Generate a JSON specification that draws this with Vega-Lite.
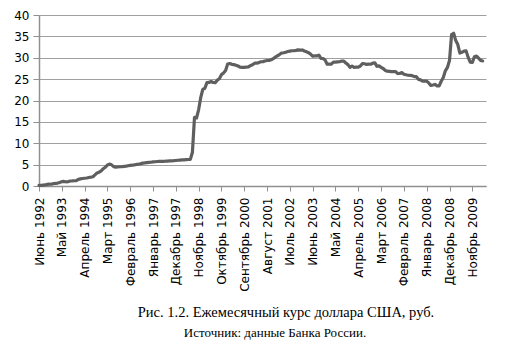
{
  "$schema": "https://vega.github.io/schema/vega-lite/v6.json",
  "width": 447,
  "height": 171,
  "autosize": "none",
  "padding": {"left": 39, "top": 15, "right": 21, "bottom": 170},
  "background": "white",
  "config": {"view": {"stroke": null}},
  "data": {"values": [
    {"m": "Июнь 1992", "v": 0.125}, {"m": "Июль 1992", "v": 0.161}, {"m": "Август 1992", "v": 0.205}, {"m": "Сентябрь 1992", "v": 0.254}, {"m": "Октябрь 1992", "v": 0.398}, {"m": "Ноябрь 1992", "v": 0.448}, {"m": "Декабрь 1992", "v": 0.415},
    {"m": "Январь 1993", "v": 0.572}, {"m": "Февраль 1993", "v": 0.593}, {"m": "Март 1993", "v": 0.684}, {"m": "Апрель 1993", "v": 0.823}, {"m": "Май 1993", "v": 1.024}, {"m": "Июнь 1993", "v": 1.06}, {"m": "Июль 1993", "v": 0.985}, {"m": "Август 1993", "v": 0.992}, {"m": "Сентябрь 1993", "v": 1.169}, {"m": "Октябрь 1993", "v": 1.186}, {"m": "Ноябрь 1993", "v": 1.231}, {"m": "Декабрь 1993", "v": 1.247},
    {"m": "Январь 1994", "v": 1.542}, {"m": "Февраль 1994", "v": 1.659}, {"m": "Март 1994", "v": 1.753}, {"m": "Апрель 1994", "v": 1.82}, {"m": "Май 1994", "v": 1.88}, {"m": "Июнь 1994", "v": 1.989}, {"m": "Июль 1994", "v": 2.06}, {"m": "Август 1994", "v": 2.153}, {"m": "Сентябрь 1994", "v": 2.596}, {"m": "Октябрь 1994", "v": 3.055}, {"m": "Ноябрь 1994", "v": 3.235}, {"m": "Декабрь 1994", "v": 3.55},
    {"m": "Январь 1995", "v": 4.047}, {"m": "Февраль 1995", "v": 4.407}, {"m": "Март 1995", "v": 4.897}, {"m": "Апрель 1995", "v": 5.13}, {"m": "Май 1995", "v": 4.947}, {"m": "Июнь 1995", "v": 4.538}, {"m": "Июль 1995", "v": 4.415}, {"m": "Август 1995", "v": 4.447}, {"m": "Сентябрь 1995", "v": 4.508}, {"m": "Октябрь 1995", "v": 4.504}, {"m": "Ноябрь 1995", "v": 4.58}, {"m": "Декабрь 1995", "v": 4.64},
    {"m": "Январь 1996", "v": 4.732}, {"m": "Февраль 1996", "v": 4.815}, {"m": "Март 1996", "v": 4.863}, {"m": "Апрель 1996", "v": 4.951}, {"m": "Май 1996", "v": 5.04}, {"m": "Июнь 1996", "v": 5.108}, {"m": "Июль 1996", "v": 5.194}, {"m": "Август 1996", "v": 5.355}, {"m": "Сентябрь 1996", "v": 5.396}, {"m": "Октябрь 1996", "v": 5.474}, {"m": "Ноябрь 1996", "v": 5.518}, {"m": "Декабрь 1996", "v": 5.56},
    {"m": "Январь 1997", "v": 5.629}, {"m": "Февраль 1997", "v": 5.676}, {"m": "Март 1997", "v": 5.726}, {"m": "Апрель 1997", "v": 5.762}, {"m": "Май 1997", "v": 5.77}, {"m": "Июнь 1997", "v": 5.782}, {"m": "Июль 1997", "v": 5.798}, {"m": "Август 1997", "v": 5.83}, {"m": "Сентябрь 1997", "v": 5.86}, {"m": "Октябрь 1997", "v": 5.887}, {"m": "Ноябрь 1997", "v": 5.915}, {"m": "Декабрь 1997", "v": 5.96},
    {"m": "Январь 1998", "v": 6.026}, {"m": "Февраль 1998", "v": 6.072}, {"m": "Март 1998", "v": 6.106}, {"m": "Апрель 1998", "v": 6.133}, {"m": "Май 1998", "v": 6.164}, {"m": "Июнь 1998", "v": 6.198}, {"m": "Июль 1998", "v": 6.24}, {"m": "Август 1998", "v": 7.905}, {"m": "Сентябрь 1998", "v": 16.06}, {"m": "Октябрь 1998", "v": 15.92}, {"m": "Ноябрь 1998", "v": 17.88}, {"m": "Декабрь 1998", "v": 20.65},
    {"m": "Январь 1999", "v": 22.6}, {"m": "Февраль 1999", "v": 22.86}, {"m": "Март 1999", "v": 24.18}, {"m": "Апрель 1999", "v": 24.23}, {"m": "Май 1999", "v": 24.44}, {"m": "Июнь 1999", "v": 24.22}, {"m": "Июль 1999", "v": 24.19}, {"m": "Август 1999", "v": 24.75}, {"m": "Сентябрь 1999", "v": 25.08}, {"m": "Октябрь 1999", "v": 26.05}, {"m": "Ноябрь 1999", "v": 26.42}, {"m": "Декабрь 1999", "v": 27.0},
    {"m": "Январь 2000", "v": 28.55}, {"m": "Февраль 2000", "v": 28.66}, {"m": "Март 2000", "v": 28.46}, {"m": "Апрель 2000", "v": 28.4}, {"m": "Май 2000", "v": 28.26}, {"m": "Июнь 2000", "v": 28.07}, {"m": "Июль 2000", "v": 27.8}, {"m": "Август 2000", "v": 27.75}, {"m": "Сентябрь 2000", "v": 27.75}, {"m": "Октябрь 2000", "v": 27.83}, {"m": "Ноябрь 2000", "v": 27.85}, {"m": "Декабрь 2000", "v": 28.16},
    {"m": "Январь 2001", "v": 28.37}, {"m": "Февраль 2001", "v": 28.72}, {"m": "Март 2001", "v": 28.73}, {"m": "Апрель 2001", "v": 28.86}, {"m": "Май 2001", "v": 29.07}, {"m": "Июнь 2001", "v": 29.09}, {"m": "Июль 2001", "v": 29.25}, {"m": "Август 2001", "v": 29.35}, {"m": "Сентябрь 2001", "v": 29.39}, {"m": "Октябрь 2001", "v": 29.54}, {"m": "Ноябрь 2001", "v": 29.8}, {"m": "Декабрь 2001", "v": 30.14},
    {"m": "Январь 2002", "v": 30.47}, {"m": "Февраль 2002", "v": 30.75}, {"m": "Март 2002", "v": 31.1}, {"m": "Апрель 2002", "v": 31.18}, {"m": "Май 2002", "v": 31.3}, {"m": "Июнь 2002", "v": 31.45}, {"m": "Июль 2002", "v": 31.55}, {"m": "Август 2002", "v": 31.64}, {"m": "Сентябрь 2002", "v": 31.64}, {"m": "Октябрь 2002", "v": 31.72}, {"m": "Ноябрь 2002", "v": 31.84}, {"m": "Декабрь 2002", "v": 31.78},
    {"m": "Январь 2003", "v": 31.82}, {"m": "Февраль 2003", "v": 31.59}, {"m": "Март 2003", "v": 31.39}, {"m": "Апрель 2003", "v": 31.18}, {"m": "Май 2003", "v": 30.86}, {"m": "Июнь 2003", "v": 30.35}, {"m": "Июль 2003", "v": 30.44}, {"m": "Август 2003", "v": 30.42}, {"m": "Сентябрь 2003", "v": 30.61}, {"m": "Октябрь 2003", "v": 29.87}, {"m": "Ноябрь 2003", "v": 29.82}, {"m": "Декабрь 2003", "v": 29.45},
    {"m": "Январь 2004", "v": 28.49}, {"m": "Февраль 2004", "v": 28.52}, {"m": "Март 2004", "v": 28.52}, {"m": "Апрель 2004", "v": 28.99}, {"m": "Май 2004", "v": 28.96}, {"m": "Июнь 2004", "v": 29.03}, {"m": "Июль 2004", "v": 29.07}, {"m": "Август 2004", "v": 29.22}, {"m": "Сентябрь 2004", "v": 29.22}, {"m": "Октябрь 2004", "v": 28.77}, {"m": "Ноябрь 2004", "v": 28.39}, {"m": "Декабрь 2004", "v": 27.75},
    {"m": "Январь 2005", "v": 28.07}, {"m": "Февраль 2005", "v": 27.76}, {"m": "Март 2005", "v": 27.79}, {"m": "Апрель 2005", "v": 27.81}, {"m": "Май 2005", "v": 28.07}, {"m": "Июнь 2005", "v": 28.66}, {"m": "Июль 2005", "v": 28.6}, {"m": "Август 2005", "v": 28.44}, {"m": "Сентябрь 2005", "v": 28.5}, {"m": "Октябрь 2005", "v": 28.48}, {"m": "Ноябрь 2005", "v": 28.73}, {"m": "Декабрь 2005", "v": 28.78},
    {"m": "Январь 2006", "v": 28.0}, {"m": "Февраль 2006", "v": 28.1}, {"m": "Март 2006", "v": 27.76}, {"m": "Апрель 2006", "v": 27.49}, {"m": "Май 2006", "v": 27.03}, {"m": "Июнь 2006", "v": 26.85}, {"m": "Июль 2006", "v": 26.81}, {"m": "Август 2006", "v": 26.74}, {"m": "Сентябрь 2006", "v": 26.78}, {"m": "Октябрь 2006", "v": 26.76}, {"m": "Ноябрь 2006", "v": 26.31}, {"m": "Декабрь 2006", "v": 26.33},
    {"m": "Январь 2007", "v": 26.53}, {"m": "Февраль 2007", "v": 26.16}, {"m": "Март 2007", "v": 26.01}, {"m": "Апрель 2007", "v": 25.91}, {"m": "Май 2007", "v": 25.88}, {"m": "Июнь 2007", "v": 25.82}, {"m": "Июль 2007", "v": 25.59}, {"m": "Август 2007", "v": 25.58}, {"m": "Сентябрь 2007", "v": 24.95}, {"m": "Октябрь 2007", "v": 24.83}, {"m": "Ноябрь 2007", "v": 24.55}, {"m": "Декабрь 2007", "v": 24.55},
    {"m": "Январь 2008", "v": 24.52}, {"m": "Февраль 2008", "v": 24.12}, {"m": "Март 2008", "v": 23.52}, {"m": "Апрель 2008", "v": 23.62}, {"m": "Май 2008", "v": 23.75}, {"m": "Июнь 2008", "v": 23.44}, {"m": "Июль 2008", "v": 23.4}, {"m": "Август 2008", "v": 24.5}, {"m": "Сентябрь 2008", "v": 25.37}, {"m": "Октябрь 2008", "v": 26.94}, {"m": "Ноябрь 2008", "v": 27.73}, {"m": "Декабрь 2008", "v": 29.38},
    {"m": "Январь 2009", "v": 35.41}, {"m": "Февраль 2009", "v": 35.72}, {"m": "Март 2009", "v": 34.01}, {"m": "Апрель 2009", "v": 33.09}, {"m": "Май 2009", "v": 31.1}, {"m": "Июнь 2009", "v": 31.29}, {"m": "Июль 2009", "v": 31.54}, {"m": "Август 2009", "v": 31.61}, {"m": "Сентябрь 2009", "v": 30.09}, {"m": "Октябрь 2009", "v": 28.97}, {"m": "Ноябрь 2009", "v": 28.89}, {"m": "Декабрь 2009", "v": 30.24},
    {"m": "Январь 2010", "v": 30.4}, {"m": "Февраль 2010", "v": 29.9}, {"m": "Март 2010", "v": 29.38}, {"m": "Апрель 2010", "v": 29.25}
  ]},
  "mark": {"type": "line", "color": "#5f5f5f", "strokeWidth": 3.2, "strokeJoin": "round", "strokeCap": "round"},
  "encoding": {
    "x": {
      "field": "m", "type": "ordinal", "sort": null,
      "scale": {"type": "point", "padding": 0.8, "align": 0},
      "axis": {
        "values": ["Июнь 1992", "Май 1993", "Апрель 1994", "Март 1995", "Февраль 1996", "Январь 1997", "Декабрь 1997", "Ноябрь 1998", "Октябрь 1999", "Сентябрь 2000", "Август 2001", "Июль 2002", "Июнь 2003", "Май 2004", "Апрель 2005", "Март 2006", "Февраль 2007", "Январь 2008", "Декабрь 2008", "Ноябрь 2009"],
        "labelAngle": -90, "labelFont": "DejaVu Sans", "labelFontSize": 12, "labelColor": "#000000", "labelPadding": 6, "labelOverlap": false,
        "tickSize": 5, "tickColor": "#909090", "domainColor": "#909090", "domainWidth": 1.5, "grid": false,
        "title": "Рис. 1.2. Ежемесячный курс доллара США, руб.",
        "titleFont": "Liberation Serif", "titleFontSize": 14.5, "titleFontWeight": "normal", "titleColor": "#000000",
        "titleX": 246.5, "titleY": 130, "titleAlign": "center", "titleBaseline": "alphabetic"
      }
    },
    "y": {
      "field": "v", "type": "quantitative",
      "scale": {"domain": [0, 40], "nice": false},
      "axis": {
        "values": [0, 5, 10, 15, 20, 25, 30, 35, 40], "title": null,
        "labelFont": "DejaVu Sans", "labelFontSize": 12, "labelColor": "#000000", "labelPadding": 4,
        "tickSize": 6, "tickColor": "#909090", "domainColor": "#909090", "domainWidth": 1.5,
        "gridColor": "#a0a0a0", "gridWidth": 1.2
      }
    }
  },
  "title": {
    "text": "Источник: данные Банка России.", "orient": "bottom", "anchor": "middle",
    "font": "Liberation Serif", "fontSize": 13, "fontWeight": "normal", "color": "#000000",
    "offset": 8, "dx": 12.5
  }
}
